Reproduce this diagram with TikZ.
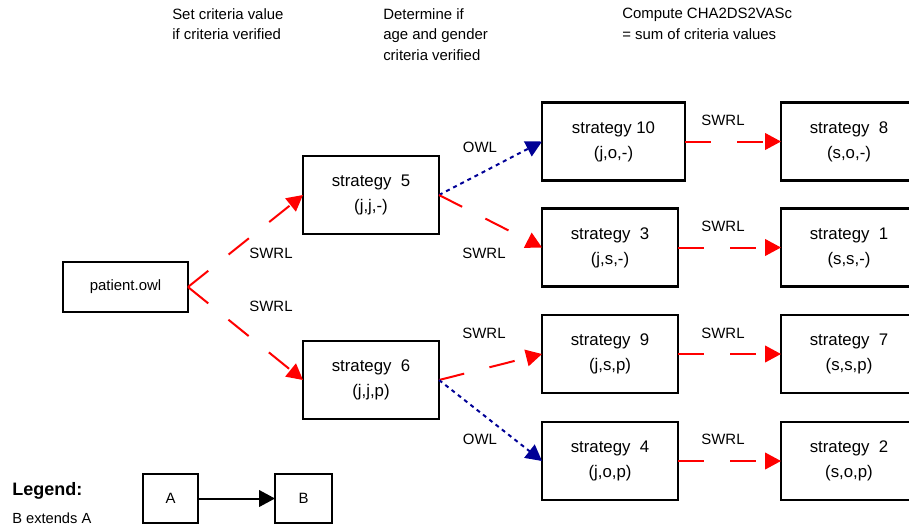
\documentclass[tikz,border=0pt]{standalone}
\usepackage{fontspec}
\setmainfont{Liberation Sans}
\usetikzlibrary{arrows.meta}
\definecolor{swrlred}{RGB}{255,0,0}
\definecolor{owlblue}{RGB}{0,0,150}
\begin{document}
\begin{tikzpicture}[x=0.75pt,y=-0.75pt,
  box/.style={draw=black,line width=1.7pt,inner sep=0pt,outer sep=0pt,align=center,
    font=\fontsize{12.6}{18.8}\selectfont},
  sbox/.style={box,minimum width=102pt,minimum height=58.5pt},
  lbl/.style={inner sep=0pt,font=\fontsize{11.2}{13}\selectfont},
  toptext/.style={inner sep=0pt,anchor=north west,align=left,font=\fontsize{11.2}{15.5}\selectfont},
  tip/.style={-{Triangle[length=12pt,width=12.5pt]}},
  swrl/.style={draw=swrlred,line width=1.5pt,dash pattern=on 19.5pt off 19.5pt,tip},
  owl/.style={draw=owlblue,line width=1.5pt,dash pattern=on 3pt off 3pt,tip}]
\useasboundingbox (0,0) rectangle (909,529);
\clip (0,0) rectangle (909,529);

% top texts
\node[toptext] (t1) at (172,8) {Set criteria value\\if criteria verified};
\node[toptext] (t2) at (383,8) {Determine if\\age and gender\\criteria verified};
\node[toptext] (t3) at (622,8) {Compute CHA2DS2VASc\\= sum of criteria values};

% boxes
\node[box,minimum width=93.75pt,minimum height=37.5pt,font=\fontsize{11.2}{13}\selectfont] (p) at (125.5,287) {patient.owl};
\node[sbox] (s5) at (371,195) {strategy~~5\\(j,j,-)};
\node[sbox] (s6) at (371,380) {strategy~~6\\(j,j,p)};
\node[sbox,minimum width=107.25pt] (s10) at (613.5,141.5) {strategy 10\\(j,o,-)};
\node[sbox] (s3) at (610,247.5) {strategy~~3\\(j,s,-)};
\node[sbox] (s9) at (610,354) {strategy~~9\\(j,s,p)};
\node[sbox] (s4) at (610,461) {strategy~~4\\(j,o,p)};
\node[sbox] (s8) at (849,141.5) {strategy~~8\\(s,o,-)};
\node[sbox] (s1) at (849,247.5) {strategy~~1\\(s,s,-)};
\node[sbox] (s7) at (849,354) {strategy~~7\\(s,s,p)};
\node[sbox] (s2) at (849,461) {strategy~~2\\(s,o,p)};

% connectors
\draw[swrl] (p.east) -- (s5.west);
\draw[swrl] (p.east) -- (s6.west);
\draw[owl] (s5.east) -- (s10.west);
\draw[swrl] (s5.east) -- (s3.west);
\draw[swrl] (s6.east) -- (s9.west);
\draw[owl] (s6.east) -- (s4.west);
\draw[swrl] (s10.east) -- (s8.west);
\draw[swrl] (s3.east) -- (s1.west);
\draw[swrl] (s9.east) -- (s7.west);
\draw[swrl] (s4.east) -- (s2.west);

% labels
\node[lbl] (l1) at (271,253) {SWRL};
\node[lbl] (l2) at (271,306) {SWRL};
\node[lbl] (l3) at (480,147) {OWL};
\node[lbl] (l4) at (484,253) {SWRL};
\node[lbl] (l5) at (484,333) {SWRL};
\node[lbl] (l6) at (480,439) {OWL};
\node[lbl] (l7) at (723,120) {SWRL};
\node[lbl] (l8) at (723,226) {SWRL};
\node[lbl] (l9) at (723,333) {SWRL};
\node[lbl] (l10) at (723,439) {SWRL};

% legend
\node[inner sep=0pt,anchor=west,font=\fontsize{13.5}{16}\selectfont\bfseries] (leg) at (12,491) {Legend:};
\node[inner sep=0pt,anchor=west,font=\fontsize{11}{13}\selectfont] (legt) at (12,518.5) {B extends A};
\node[box,minimum width=41.25pt,minimum height=36.75pt,font=\fontsize{11.2}{13}\selectfont] (la) at (170.5,498.5) {A};
\node[box,minimum width=42.75pt,minimum height=36.75pt,font=\fontsize{11.2}{13}\selectfont] (lb) at (303.5,498.5) {B};
\draw[line width=1.5pt,tip] (la.east) -- (lb.west);
\end{tikzpicture}
\end{document}
